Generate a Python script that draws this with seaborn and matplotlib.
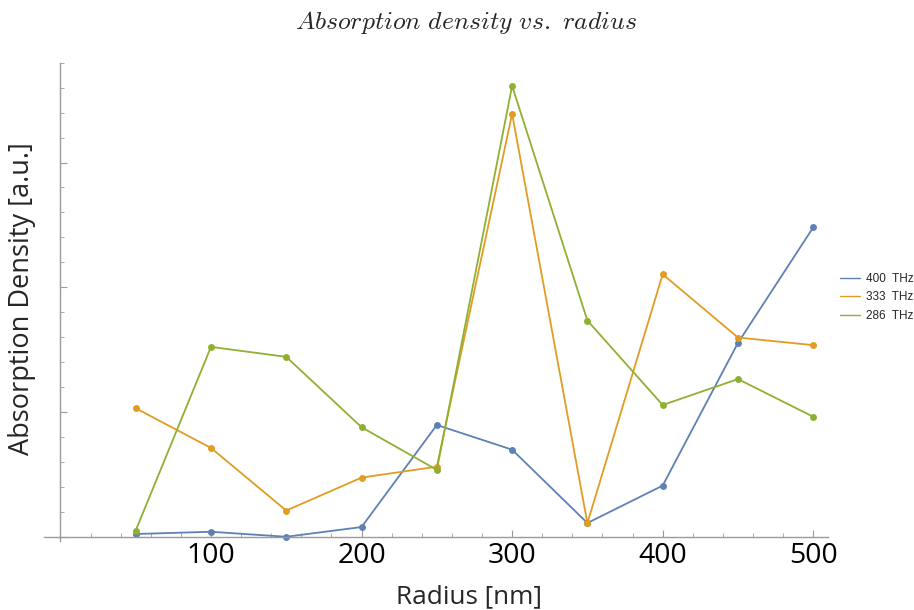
import numpy as np
import pandas as pd
import matplotlib
matplotlib.use("Agg")
import matplotlib.pyplot as plt
import seaborn as sns
from matplotlib.ticker import MultipleLocator, NullFormatter

# ---- data (arbitrary absorption units) ----
radius = [50, 100, 150, 200, 250, 300, 350, 400, 450, 500]
series_names = ["400  THz", "333  THz", "286  THz"]
abs_400 = [0.022, 0.040, 0.000, 0.078, 0.896, 0.698, 0.110, 0.410, 1.554, 2.480]
abs_333 = [1.030, 0.712, 0.210, 0.474, 0.562, 3.390, 0.109, 2.104, 1.597, 1.536]
abs_286 = [0.050, 1.522, 1.442, 0.878, 0.536, 3.614, 1.733, 1.056, 1.264, 0.962]
x_ticks = [100, 200, 300, 400, 500]

colors = ["#5E81B5", "#E19C24", "#8FB032"]

df = pd.concat([
    pd.DataFrame({"Radius": radius, "Absorption": vals, "Series": name})
    for name, vals in zip(series_names, [abs_400, abs_333, abs_286])
], ignore_index=True)

sns.set_theme(style="white")
plt.rcParams["font.family"] = ["Open Sans", "DejaVu Sans"]
plt.rcParams["mathtext.fontset"] = "cm"

fig = plt.figure(figsize=(9.14, 6.10), dpi=100)
ax = fig.add_axes([44/914, (610-540.5)/610, (828-44)/914, (540.5-62.7)/610])

sns.lineplot(data=df, x="Radius", y="Absorption", hue="Series",
             hue_order=series_names, palette=colors, marker="o",
             markersize=5, markeredgewidth=0, linewidth=1.3, ax=ax,
             legend=True)

ax.set_xlim(-10.9, 509.8)
ax.set_ylim(-0.03, 3.80)

axis_color = "#9a9a9a"
for s in ["top", "right"]:
    ax.spines[s].set_visible(False)
ax.spines["bottom"].set_position(("data", 0))
ax.spines["left"].set_position(("data", 0))
for s in ["bottom", "left"]:
    ax.spines[s].set_color(axis_color)
    ax.spines[s].set_linewidth(1.0)

ax.set_xticks(x_ticks)
ax.xaxis.set_minor_locator(MultipleLocator(20))
ax.yaxis.set_major_locator(MultipleLocator(1))
ax.yaxis.set_minor_locator(MultipleLocator(0.2))
ax.yaxis.set_major_formatter(NullFormatter())
ax.tick_params(axis="both", which="both", bottom=True, left=True,
               top=False, right=False)
ax.tick_params(axis="both", which="major", direction="in", length=5,
               width=0.8, color=axis_color)
ax.tick_params(axis="both", which="minor", direction="in", length=3,
               width=0.6, color=axis_color)
ax.tick_params(axis="x", which="major", labelsize=20.5, pad=4, labelcolor="black")

ax.set_xlabel("Radius [nm]", fontsize=18.8)
ax.set_ylabel("Absorption Density [a.u.]", fontsize=19.5)
ax.xaxis.set_label_coords((469-44)/784, (540.5-597)/477.8)
ax.xaxis.label.set_va("center")
ax.yaxis.set_label_coords((22-44)/784, (540.5-299)/477.8)
ax.yaxis.label.set_va("center")

fig.text(466/914, 1-22/610, r"$\mathit{Absorption\ density\ vs.\ radius}$",
         ha="center", va="center", fontsize=18.5)

handles, labels = ax.get_legend_handles_labels()
ax.legend(handles, labels, loc="center left",
          bbox_to_anchor=(840/914, 1-297.5/610), bbox_transform=fig.transFigure,
          frameon=False, prop={"family": "Liberation Sans", "size": 8.5},
          handlelength=1.7, handletextpad=0.5,
          labelspacing=0.55, borderaxespad=0, borderpad=0)
for h in ax.get_legend().legend_handles:
    h.set_marker("")
    h.set_linewidth(1.0)

fig.savefig("out.png", dpi=100)
